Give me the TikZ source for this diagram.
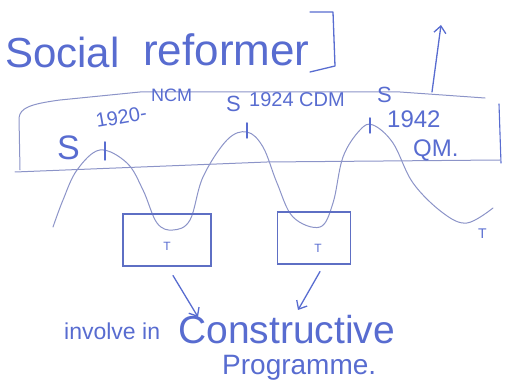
\documentclass[tikz,border=0pt]{standalone}
\usepackage{fontspec}
\setmainfont{Liberation Sans}
\usetikzlibrary{arrows.meta}
\definecolor{penblue}{RGB}{88,108,208}
\definecolor{pencil}{RGB}{140,148,200}
\tikzset{
  hand/.style={text=penblue, inner sep=0pt, anchor=base west},
  pen/.style={draw=penblue, line width=1.3pt, line cap=round, line join=round},
  pencilline/.style={draw=pencil, line width=1pt, line cap=round, line join=round},
  tbox/.style={draw=penblue!85!gray, line width=1.1pt, minimum width=#1, minimum height=52pt, inner sep=0pt},
  arr/.style={pen, -{Straight Barb[length=7pt,width=12pt]}}
}
\begin{document}
\begin{tikzpicture}[x=1pt,y=-1pt]
\useasboundingbox (0,0) rectangle (515,385);
% title
\node[hand, font=\fontsize{42}{42}\selectfont] (social) at (5,68) {Social};
\node[hand, font=\fontsize{44}{44}\selectfont] (reformer) at (143,66) {reformer};
\draw[pen] (310,12) -- (333,12) -- (335,66) -- (310,72);
% up arrow
\coordinate (upb) at (432,92);
\coordinate (upt) at (441,25);
\draw[arr] (upb) -- (upt);
% big rectangle
\draw[pencilline] (20,170) -- (19,118) .. controls (20,108) and (30,104) .. (60,100) -- (140,92) -- (400,92) -- (485,98);
\draw[pen, line width=1.1pt] (499,104) -- (501,163);
\draw[pencilline] (15,172) -- (267,162) -- (500,160);
% wave
\draw[pencilline] plot[smooth, tension=0.6] coordinates {(53,227) (63,200) (77,170) (100,150) (127,163) (143,190) (157,223) (173,230) (190,220) (203,177) (227,140) (247,132) (263,147) (277,183) (293,217) (320,227) (333,203) (343,157) (360,130) (373,125) (393,143) (413,183) (443,213) (467,223) (493,208)};
% ticks
\draw[pen, line width=1.5pt] (105,142) -- (105,160);
\draw[pen, line width=1.5pt] (247,123) -- (247,138);
\draw[pen, line width=1.5pt] (370,118) -- (370,133);
% labels
\node[hand, font=\fontsize{34}{34}\selectfont] (s1) at (57,160) {S};
\node[hand, font=\fontsize{20}{20}\selectfont, rotate=10] (y20) at (97,128) {1920-};
\node[hand, font=\fontsize{18}{18}\selectfont] (ncm) at (151,102) {NCM};
\node[hand, font=\fontsize{22}{22}\selectfont] (s2) at (226,112) {S};
\node[hand, font=\fontsize{20}{20}\selectfont] (cdm) at (249,107) {1924 CDM};
\node[hand, font=\fontsize{22}{22}\selectfont] (s3) at (377,103) {S};
\node[hand, font=\fontsize{24}{24}\selectfont] (y42) at (387,128) {1942};
\node[hand, font=\fontsize{24}{24}\selectfont] (qm) at (413,157) {QM.};
\node[hand, font=\fontsize{14}{14}\selectfont] (tend) at (478,239) {T};
% boxes
\node[tbox=88pt] (b1) at (167,240) {};
\node[tbox=73pt] (b2) at (314,238) {};
\node[text=penblue, font=\fontsize{12}{12}\selectfont] (t1) at (167,246) {T};
\node[text=penblue, font=\fontsize{12}{12}\selectfont] (t2) at (318,248) {T};
% arrows to text
\coordinate (a1e) at (198,317);
\coordinate (a2e) at (298,310);
\draw[arr] (b1.south) ++(6,9) -- (a1e);
\draw[arr] (b2.south) ++(6,7) -- (a2e);
% bottom text
\node[hand, font=\fontsize{23}{23}\selectfont] (inv) at (64,340) {involve in};
\node[hand, font=\fontsize{39}{39}\selectfont] (cons) at (178,344) {Constructive};
\node[hand, font=\fontsize{28}{28}\selectfont] (prog) at (222,374) {Programme.};
\end{tikzpicture}
\end{document}
